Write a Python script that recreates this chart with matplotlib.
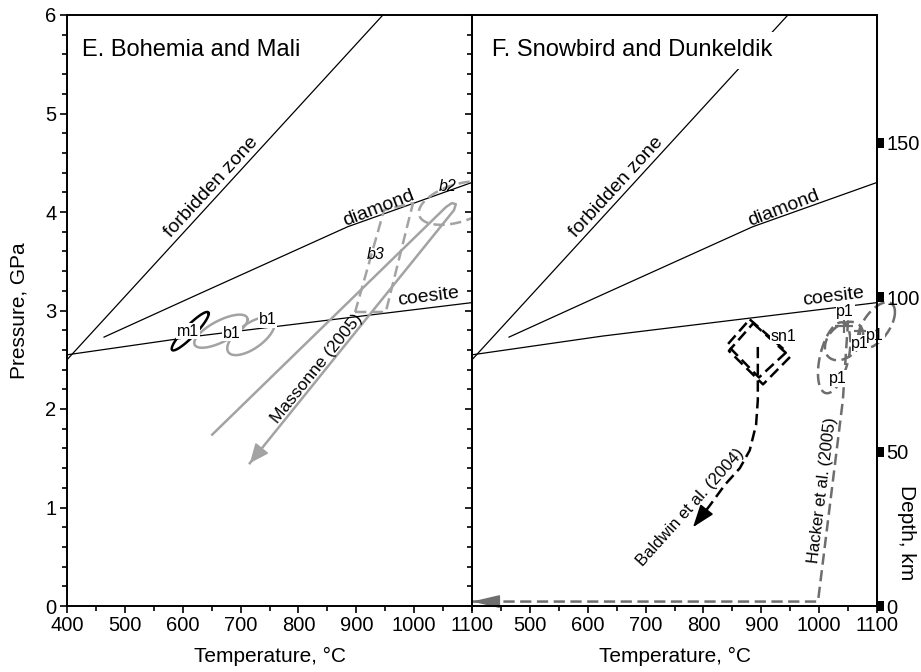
import numpy as np
import matplotlib.pyplot as plt
from matplotlib.ticker import MultipleLocator

plt.rcParams['font.family'] = ['Liberation Sans', 'DejaVu Sans']

# phase boundaries, T in C and P in GPa (same in both panels)
forbidden_T = [400, 946]
forbidden_P = [2.50, 6.00]
diamond_T = [464, 625, 885, 1100]
diamond_P = [2.73, 3.16, 3.85, 4.30]
coesite_T = [400, 625, 1100]
coesite_P = [2.55, 2.74, 3.08]

# ellipses: centre T, centre P, half range T, half range P, phase angle (deg)
m1 = (613, 2.79, 32, 0.195, 24)
b1_a = (666, 2.79, 46, 0.168, 45)
b1_b = (718, 2.74, 41, 0.193, 50)
b2 = (1076, 4.09, 68, 0.22, 64)
p1_a = (1026, 2.52, 28, 0.36, 64)
p1_b = (1043, 2.69, 33, 0.195, 70)
p1_c = (1099, 2.85, 32, 0.234, 55)

# b3 outline
b3_T = [898, 951, 998, 948, 898]
b3_P = [2.985, 2.985, 4.09, 4.02, 2.985]

# Massonne (2005) loop, ends in arrow
mass_T = [651, 1055, 1065, 1072, 1069, 716]
mass_P = [1.74, 4.05, 4.09, 4.08, 4.02, 1.45]

# sn1 (two outlines) and Baldwin et al. (2004) path
sn1_a_T = [880, 944, 896, 841, 880]
sn1_a_P = [2.91, 2.58, 2.32, 2.65, 2.91]
sn1_b_T = [886, 950, 903, 844, 886]
sn1_b_P = [2.87, 2.53, 2.25, 2.59, 2.87]
bald_T = [894, 894, 891, 880, 863, 837, 811, 782]
bald_P = [2.63, 2.09, 1.84, 1.58, 1.40, 1.23, 1.02, 0.80]

# Hacker et al. (2005) path
hack_T = [1050, 1041, 998, 400]
hack_P = [2.90, 2.09, 0.045, 0.045]

# p1 error crosses
p1_err_T = [1043, 1071]
p1_err_P = [2.84, 2.79]
p1_err_dT = [15, 10]
p1_err_dP = [0.07, 0.05]

# small labels (text, T, P)
left_labels = [('m1', 609, 2.79), ('b1', 685, 2.77), ('b1', 747, 2.91)]
right_labels = [('sn1', 938, 2.74), ('p1', 1045, 2.985), ('p1', 1071, 2.67),
                ('p1', 1097, 2.75), ('p1', 1033, 2.31)]

KM_PER_GPA = 31.9
depth_ticks = [0, 50, 100, 150]

LIGHT = '#a3a3a3'
MID = '#6e6e6e'
DASH = (4.5, 2.2)
TICK_FS = 14.5
LABEL_FS = 15


def ellipse(tc, pc, dt, dp, phi, n=120):
    t = np.linspace(0, 2 * np.pi, n)
    return tc + dt * np.cos(t), pc + dp * np.cos(t - np.radians(phi))


def line_label(ax, text, xs, ys, T, angle, off, size=14):
    P = np.interp(T, xs, ys)
    a = np.radians(angle)
    ax.annotate(text, xy=(T, P), xytext=(-off * np.sin(a), off * np.cos(a)),
                textcoords='offset points', rotation=angle, rotation_mode='anchor',
                ha='center', va='baseline', fontsize=size, zorder=6)


def arrow_head(ax, xs, ys, frac, color, hl, hw, ms):
    tip = (xs[-1], ys[-1])
    back = (xs[-1] + frac * (xs[-2] - xs[-1]), ys[-1] + frac * (ys[-2] - ys[-1]))
    ax.annotate('', xy=tip, xytext=back, annotation_clip=False,
                arrowprops=dict(arrowstyle=f'-|>,head_length={hl},head_width={hw}',
                                color=color, lw=1.2, shrinkA=0, shrinkB=0,
                                mutation_scale=ms))


fig = plt.figure(figsize=(9.21, 6.72), dpi=100)
axL = fig.add_axes([67 / 921, 66 / 672, 405 / 921, 591 / 672])
axR = fig.add_axes([472 / 921, 66 / 672, 405 / 921, 591 / 672], sharey=axL)

for ax in (axL, axR):
    ax.plot(forbidden_T, forbidden_P, color='black', lw=0.9)
    ax.plot(diamond_T, diamond_P, color='black', lw=0.9)
    ax.plot(coesite_T, coesite_P, color='black', lw=0.9)
    line_label(ax, 'forbidden zone', forbidden_T, forbidden_P, 663, 47.5, 4)
    line_label(ax, 'diamond', diamond_T, diamond_P, 943, 21, 1.5)
    line_label(ax, 'coesite', coesite_T, coesite_P, 1026, 7, 4.5)
    ax.set_xlim(400, 1100)
    ax.set_ylim(0, 6)
    for s in ax.spines.values():
        s.set_linewidth(1.4)
    ax.xaxis.set_minor_locator(MultipleLocator(50))
    ax.tick_params(axis='both', which='major', direction='out', length=5, width=1.2,
                   labelsize=TICK_FS, pad=2.5)
    ax.tick_params(axis='both', which='minor', direction='out', length=3.5, width=1.2)
    ax.set_xlabel('Temperature, °C', fontsize=LABEL_FS, labelpad=8)

# left panel
x, y = ellipse(*m1)
axL.plot(x, y, color='black', lw=1.8)
for e in (b1_a, b1_b):
    x, y = ellipse(*e)
    axL.plot(x, y, color=LIGHT, lw=1.8)
x, y = ellipse(*b2)
axL.plot(x, y, color=LIGHT, lw=1.8, dashes=DASH, clip_on=False)
axL.plot(b3_T, b3_P, color=LIGHT, lw=1.8, dashes=DASH)
axL.plot(mass_T, mass_P, color=LIGHT, lw=1.8)
arrow_head(axL, mass_T, mass_P, 0.03, LIGHT, 0.6, 0.26, 20)
for txt, T, P in left_labels:
    axL.text(T, P, txt, fontsize=11.5, ha='center', va='center', zorder=6,
             bbox=dict(boxstyle='square,pad=0.05', fc='white', ec='none'))
axL.text(1058, 4.26, 'b2', fontsize=11.5, style='italic', ha='center', va='center', zorder=6)
axL.text(934, 3.57, 'b3', fontsize=11.5, style='italic', ha='center', va='center', zorder=6)
axL.annotate('Massonne (2005)', xy=(841.7, 2.365), xytext=(-1.5, 1.2),
             textcoords='offset points', rotation=51, rotation_mode='anchor',
             ha='center', va='baseline', fontsize=12.5, zorder=6)
axL.text(0.037, 0.94, 'E. Bohemia and Mali', transform=axL.transAxes, fontsize=17,
         ha='left', va='center', zorder=7)
axL.xaxis.set_major_locator(MultipleLocator(100))
axL.yaxis.set_major_locator(MultipleLocator(1))
axL.yaxis.set_minor_locator(MultipleLocator(0.2))
axL.tick_params(top=False, right=False, which='both')
axL.set_ylabel('Pressure, GPa', fontsize=LABEL_FS, labelpad=12)

# right panel
for sT, sP in ((sn1_a_T, sn1_a_P), (sn1_b_T, sn1_b_P)):
    axR.plot(sT, sP, color='black', lw=1.8, dashes=DASH)
axR.plot(bald_T, bald_P, color='black', lw=1.8, dashes=DASH)
arrow_head(axR, bald_T, bald_P, 0.5, 'black', 0.7, 0.25, 20)
for e in (p1_a, p1_b, p1_c):
    x, y = ellipse(*e)
    axR.plot(x, y, color=MID, lw=1.8, dashes=DASH, clip_on=False)
axR.errorbar(p1_err_T, p1_err_P, xerr=p1_err_dT, yerr=p1_err_dP, fmt='none',
             ecolor=MID, elinewidth=1.6, capsize=0)
axR.plot(hack_T, hack_P, color=MID, lw=1.8, dashes=DASH, clip_on=False)
arrow_head(axR, hack_T, hack_P, 0.05, MID, 0.85, 0.2, 20)
for txt, T, P in right_labels:
    axR.text(T, P, txt, fontsize=11.5, ha='center', va='center', zorder=6,
             bbox=dict(boxstyle='square,pad=0.05', fc='white', ec='none'))
axR.text(777, 1.0, 'Baldwin et al. (2004)', rotation=48, fontsize=12,
         ha='center', va='center', zorder=6)
axR.text(1006, 1.18, 'Hacker et al. (2005)', rotation=83, fontsize=12,
         ha='center', va='center', zorder=6)
axR.text(0.049, 0.94, 'F. Snowbird and Dunkeldik', transform=axR.transAxes, fontsize=17,
         ha='left', va='center', zorder=7,
         bbox=dict(boxstyle='square,pad=0.3', fc='white', ec='none'))
axR.set_xticks(np.arange(500, 1101, 100))
axR.tick_params(axis='y', which='both', left=False, right=False, labelleft=False)
axR.tick_params(axis='x', which='both', top=False)

# depth axis
axD = axR.twinx()
axD.set_ylim(0, 6 * KM_PER_GPA)
axD.set_yticks(depth_ticks)
axD.tick_params(axis='y', direction='out', length=5, width=7.2, labelsize=TICK_FS, pad=2)
for s in axD.spines.values():
    s.set_linewidth(1.4)
fig.text(906 / 921, (672 - 533) / 672, 'Depth, km', rotation=270, fontsize=LABEL_FS,
         ha='center', va='center')

fig.savefig('out.png', dpi=100)
